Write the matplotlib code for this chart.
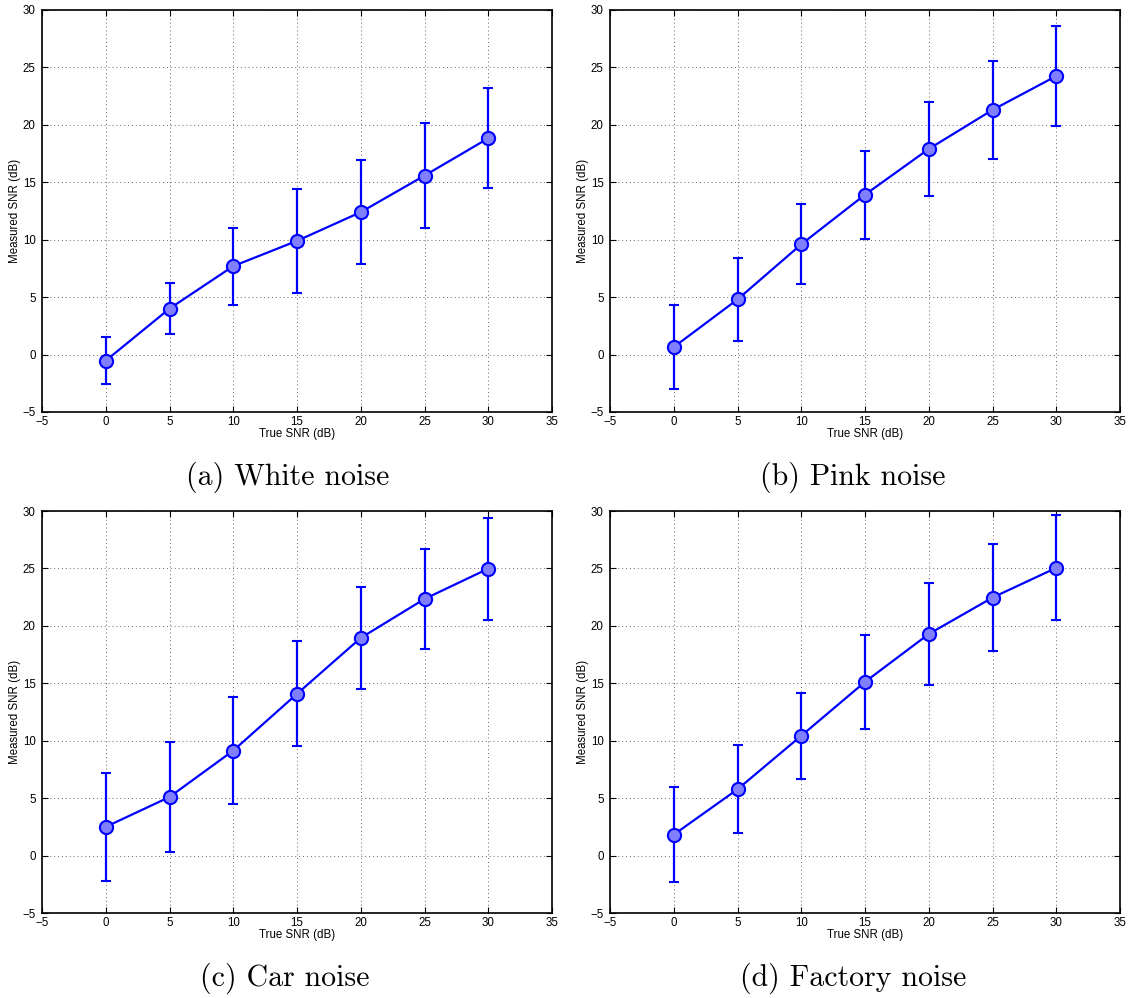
import matplotlib
matplotlib.use("Agg")
import matplotlib.pyplot as plt

true_snr = [0, 5, 10, 15, 20, 25, 30]

white_mean = [-0.53, 4.0, 7.7, 9.9, 12.4, 15.58, 18.83]
white_err = [2.03, 2.25, 3.35, 4.5, 4.52, 4.6, 4.37]

pink_mean = [0.65, 4.8, 9.6, 13.92, 17.9, 21.3, 24.25]
pink_err = [3.68, 3.58, 3.48, 3.83, 4.13, 4.3, 4.37]

car_mean = [2.5, 5.1, 9.14, 14.08, 18.95, 22.34, 24.98]
car_err = [4.73, 4.77, 4.69, 4.57, 4.41, 4.35, 4.45]

factory_mean = [1.82, 5.77, 10.43, 15.12, 19.29, 22.46, 25.05]
factory_err = [4.13, 3.83, 3.73, 4.08, 4.44, 4.67, 4.57]

captions = ["(a) White noise", "(b) Pink noise", "(c) Car noise", "(d) Factory noise"]
means = [white_mean, pink_mean, car_mean, factory_mean]
errs = [white_err, pink_err, car_err, factory_err]

W, H = 1131, 998
fig = plt.figure(figsize=(W / 100, H / 100), dpi=100)
plt.rcParams['font.family'] = ['Liberation Sans', 'DejaVu Sans']

# axes boxes in pixels (left, top, right, bottom)
boxes = [(42, 10, 552, 412), (610, 10, 1120, 412),
         (42, 511, 552, 913), (610, 511, 1120, 913)]
cap_pos = [(288, 477), (853, 477), (285, 978), (853, 978)]

for i in range(4):
    l, t, r, b = boxes[i]
    ax = fig.add_axes([l / W, (H - b) / H, (r - l) / W, (b - t) / H])
    ax.errorbar(true_snr, means[i], yerr=errs[i], color='#0000ff', lw=1.6,
                elinewidth=1.6, capsize=3.5, capthick=1.6,
                marker='o', markersize=9.5, markerfacecolor='#8080ff',
                markeredgecolor='#0000ff', markeredgewidth=1.5, zorder=3)
    ax.set_xlim(-5, 35)
    ax.set_ylim(-5, 30)
    ax.set_xticks(range(-5, 36, 5))
    ax.set_yticks(range(-5, 31, 5))
    ax.set_xticklabels(['\u22125'] + [str(v) for v in range(0, 36, 5)])
    ax.set_yticklabels(['\u22125'] + [str(v) for v in range(0, 31, 5)])
    ax.tick_params(direction='in', top=True, right=True, length=4, width=0.8,
                   labelsize=8.3)
    ax.tick_params(axis='x', pad=3)
    ax.tick_params(axis='y', pad=4.5)
    ax.grid(True, linestyle=(0, (1, 3)), color='#666666', linewidth=0.7, zorder=0)
    for s in ax.spines.values():
        s.set_linewidth(1.2)
    ax.set_xlabel('True SNR (dB)', fontsize=8.3, labelpad=0)
    ax.set_ylabel('Measured SNR (dB)', fontsize=8.3, labelpad=1)
    cx, cy = cap_pos[i]
    fig.text(cx / W, (H - cy) / H, captions[i], ha='center', va='center',
             fontsize=21.5, family='cmr10')

fig.savefig('out.png', dpi=100)
